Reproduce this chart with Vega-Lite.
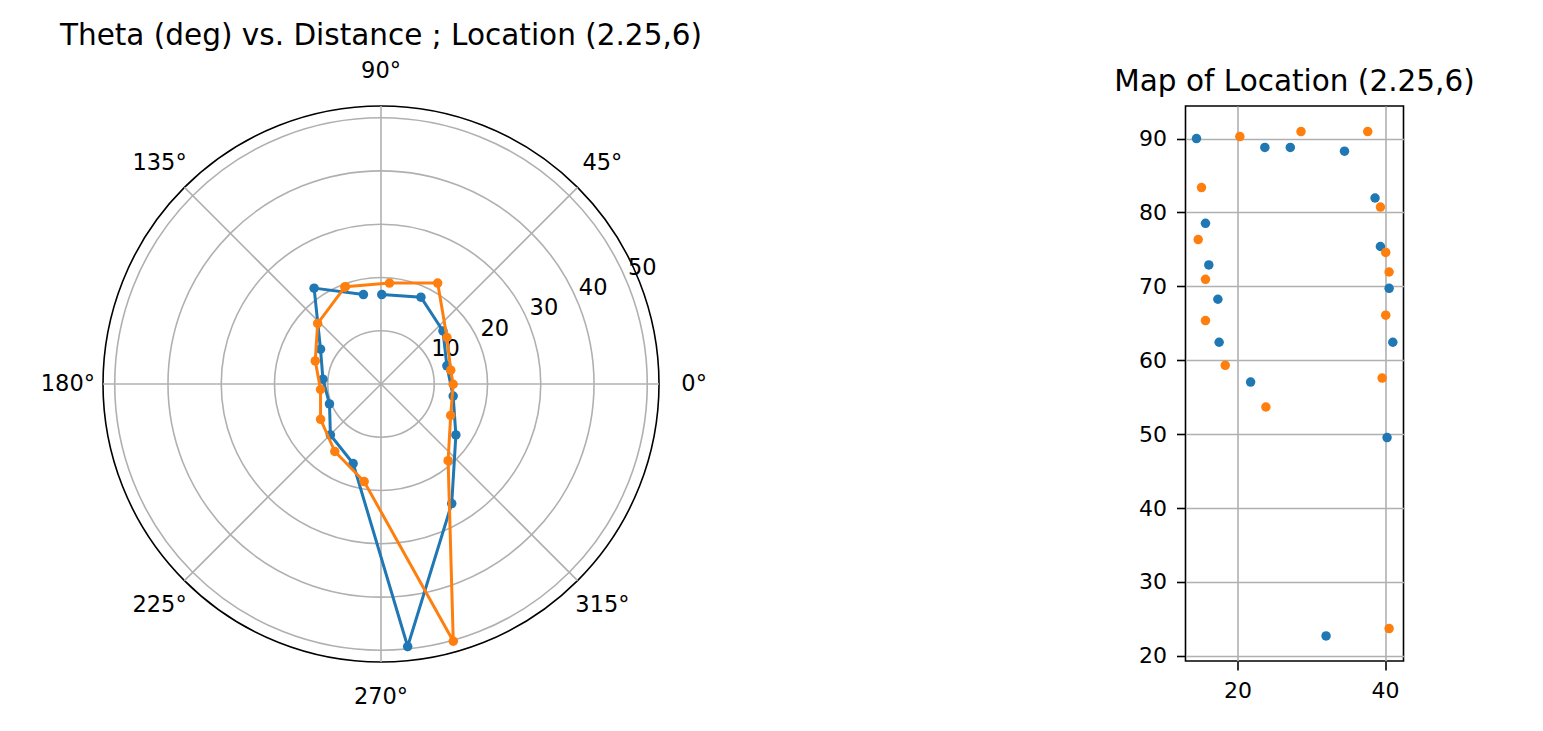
{
  "$schema": "https://vega.github.io/schema/vega-lite/v6.json",
  "padding": {"left": 40, "top": 21, "right": 5, "bottom": 5},
  "background": "white",
  "bounds": "flush",
  "spacing": 526.5,
  "resolve": {"scale": {"color": "independent", "size": "independent"}},
  "config": {"font": "DejaVu Sans", "text": {"font": "DejaVu Sans"}},
  "datasets": {
    "polar": [
      {"scan": "scan 1", "i": 1, "theta": 89.5, "r": 16.8},
      {"scan": "scan 1", "i": 2, "theta": 65.3, "r": 17.94},
      {"scan": "scan 1", "i": 3, "theta": 40.6, "r": 15.32},
      {"scan": "scan 1", "i": 4, "theta": 15.4, "r": 12.83},
      {"scan": "scan 1", "i": 5, "theta": 350.5, "r": 13.74},
      {"scan": "scan 1", "i": 6, "theta": 325.8, "r": 17.0},
      {"scan": "scan 1", "i": 7, "theta": 300.6, "r": 26.09},
      {"scan": "scan 1", "i": 8, "theta": 275.8, "r": 49.55},
      {"scan": "scan 1", "i": 9, "theta": 250.7, "r": 15.83},
      {"scan": "scan 1", "i": 10, "theta": 225.2, "r": 13.48},
      {"scan": "scan 1", "i": 11, "theta": 201.1, "r": 10.37},
      {"scan": "scan 1", "i": 12, "theta": 175.3, "r": 10.94},
      {"scan": "scan 1", "i": 13, "theta": 150.1, "r": 13.1},
      {"scan": "scan 1", "i": 14, "theta": 124.9, "r": 21.95},
      {"scan": "scan 1", "i": 15, "theta": 101.1, "r": 17.12},
      {"scan": "scan 2", "i": 1, "theta": 110.1, "r": 19.46},
      {"scan": "scan 2", "i": 2, "theta": 85.2, "r": 19.02},
      {"scan": "scan 2", "i": 3, "theta": 60.7, "r": 21.74},
      {"scan": "scan 2", "i": 4, "theta": 35.2, "r": 15.15},
      {"scan": "scan 2", "i": 5, "theta": 11.2, "r": 13.35},
      {"scan": "scan 2", "i": 6, "theta": 359.8, "r": 13.55},
      {"scan": "scan 2", "i": 7, "theta": 335.7, "r": 14.36},
      {"scan": "scan 2", "i": 8, "theta": 311.2, "r": 19.13},
      {"scan": "scan 2", "i": 9, "theta": 285.7, "r": 50.16},
      {"scan": "scan 2", "i": 10, "theta": 260.2, "r": 18.59},
      {"scan": "scan 2", "i": 11, "theta": 235.6, "r": 15.36},
      {"scan": "scan 2", "i": 12, "theta": 210.3, "r": 13.14},
      {"scan": "scan 2", "i": 13, "theta": 185.2, "r": 11.4},
      {"scan": "scan 2", "i": 14, "theta": 160.7, "r": 13.08},
      {"scan": "scan 2", "i": 15, "theta": 136.3, "r": 16.45},
      {"scan": "scan 2", "i": 16, "theta": 110.5, "r": 19.4}
    ],
    "rings": [
      {"r": 10, "lab": "10", "kind": "grid"}, {"r": 20, "lab": "20", "kind": "grid"}, {"r": 30, "lab": "30", "kind": "grid"},
      {"r": 40, "lab": "40", "kind": "grid"}, {"r": 50, "lab": "50", "kind": "grid"}, {"r": 52.2, "lab": "", "kind": "edge"}
    ],
    "spokes": [
      {"a": 0, "lab": "0°"}, {"a": 45, "lab": "45°"}, {"a": 90, "lab": "90°"}, {"a": 135, "lab": "135°"},
      {"a": 180, "lab": "180°"}, {"a": 225, "lab": "225°"}, {"a": 270, "lab": "270°"}, {"a": 315, "lab": "315°"}
    ],
    "map": [
      {"scan": "scan 1", "x": 14.43, "y": 90.0},
      {"scan": "scan 1", "x": 23.7, "y": 88.8},
      {"scan": "scan 1", "x": 27.15, "y": 88.8},
      {"scan": "scan 1", "x": 34.5, "y": 88.3},
      {"scan": "scan 1", "x": 38.64, "y": 81.96},
      {"scan": "scan 1", "x": 39.37, "y": 75.4},
      {"scan": "scan 1", "x": 40.55, "y": 69.74},
      {"scan": "scan 1", "x": 41.05, "y": 62.44},
      {"scan": "scan 1", "x": 40.27, "y": 49.54},
      {"scan": "scan 1", "x": 32.0, "y": 22.7},
      {"scan": "scan 1", "x": 21.77, "y": 57.06},
      {"scan": "scan 1", "x": 17.5, "y": 62.44},
      {"scan": "scan 1", "x": 17.33, "y": 68.26},
      {"scan": "scan 1", "x": 16.1, "y": 72.9},
      {"scan": "scan 1", "x": 15.65, "y": 78.54},
      {"scan": "scan 2", "x": 20.31, "y": 90.27},
      {"scan": "scan 2", "x": 28.6, "y": 90.95},
      {"scan": "scan 2", "x": 37.65, "y": 90.95},
      {"scan": "scan 2", "x": 39.37, "y": 80.74},
      {"scan": "scan 2", "x": 40.09, "y": 74.6},
      {"scan": "scan 2", "x": 40.55, "y": 71.95},
      {"scan": "scan 2", "x": 40.09, "y": 66.1},
      {"scan": "scan 2", "x": 39.6, "y": 57.6},
      {"scan": "scan 2", "x": 40.55, "y": 23.7},
      {"scan": "scan 2", "x": 23.84, "y": 53.68},
      {"scan": "scan 2", "x": 18.33, "y": 59.32},
      {"scan": "scan 2", "x": 15.65, "y": 65.37},
      {"scan": "scan 2", "x": 15.65, "y": 70.96},
      {"scan": "scan 2", "x": 14.66, "y": 76.33},
      {"scan": "scan 2", "x": 15.11, "y": 83.37}
    ]
  },
  "hconcat": [
    {
      "width": 556,
      "height": 556,
      "view": {"stroke": null},
      "title": {"text": "Theta (deg) vs. Distance ; Location (2.25,6)", "font": "DejaVu Sans", "fontSize": 29.5, "fontWeight": "normal", "color": "#000000", "baseline": "alphabetic", "anchor": "middle", "frame": "group", "offset": -15},
      "layer": [
        {
          "data": {"name": "rings"},
          "transform": [{"calculate": "0", "as": "c"}],
          "mark": {"type": "point", "shape": "circle", "filled": false, "strokeWidth": 1.6, "opacity": 1},
          "encoding": {
            "x": {"field": "c", "type": "quantitative", "scale": {"domain": [-52.2, 52.2], "nice": false, "zero": false}, "axis": null},
            "y": {"field": "c", "type": "quantitative", "scale": {"domain": [-52.2, 52.2], "nice": false, "zero": false}, "axis": null},
            "size": {"field": "r", "type": "quantitative", "scale": {"type": "pow", "exponent": 2, "domain": [0, 52.2], "range": [0, 309136], "zero": true, "nice": false}, "legend": null},
            "color": {"field": "kind", "type": "nominal", "scale": {"domain": ["grid", "edge"], "range": ["#b0b0b0", "#000000"]}, "legend": null}
          }
        },
        {
          "data": {"name": "spokes"},
          "transform": [
            {"calculate": "0", "as": "c"},
            {"calculate": "52.2 * cos(datum.a * PI / 180)", "as": "gx"},
            {"calculate": "52.2 * sin(datum.a * PI / 180)", "as": "gy"}
          ],
          "mark": {"type": "rule", "color": "#b0b0b0", "strokeWidth": 1.6},
          "encoding": {
            "x": {"field": "c", "type": "quantitative", "scale": {"domain": [-52.2, 52.2], "nice": false, "zero": false}, "axis": null},
            "y": {"field": "c", "type": "quantitative", "scale": {"domain": [-52.2, 52.2], "nice": false, "zero": false}, "axis": null},
            "x2": {"field": "gx"},
            "y2": {"field": "gy"}
          }
        },
        {
          "data": {"name": "rings"},
          "transform": [
            {"filter": "datum.kind == 'grid'"},
            {"calculate": "datum.r * cos(22.5 * PI / 180)", "as": "lx"},
            {"calculate": "datum.r * sin(22.5 * PI / 180)", "as": "ly"}
          ],
          "mark": {"type": "text", "align": "left", "baseline": "alphabetic", "dx": 1, "dy": -7.5, "fontSize": 22.5, "font": "DejaVu Sans", "color": "#000000"},
          "encoding": {
            "x": {"field": "lx", "type": "quantitative", "scale": {"domain": [-52.2, 52.2], "nice": false, "zero": false}, "axis": null},
            "y": {"field": "ly", "type": "quantitative", "scale": {"domain": [-52.2, 52.2], "nice": false, "zero": false}, "axis": null},
            "text": {"field": "lab", "type": "nominal"}
          }
        },
        {
          "data": {"name": "spokes"},
          "transform": [
            {"calculate": "58.8 * cos(datum.a * PI / 180)", "as": "tx"},
            {"calculate": "58.8 * sin(datum.a * PI / 180)", "as": "ty"}
          ],
          "mark": {"type": "text", "align": "center", "baseline": "middle", "fontSize": 22.5, "font": "DejaVu Sans", "color": "#000000"},
          "encoding": {
            "x": {"field": "tx", "type": "quantitative", "scale": {"domain": [-52.2, 52.2], "nice": false, "zero": false}, "axis": null},
            "y": {"field": "ty", "type": "quantitative", "scale": {"domain": [-52.2, 52.2], "nice": false, "zero": false}, "axis": null},
            "text": {"field": "lab", "type": "nominal"}
          }
        },
        {
          "data": {"name": "polar"},
          "transform": [
            {"filter": "datum.scan == 'scan 1'"},
            {"calculate": "datum.r * cos(datum.theta * PI / 180)", "as": "px"},
            {"calculate": "datum.r * sin(datum.theta * PI / 180)", "as": "py"}
          ],
          "mark": {"type": "line", "color": "#1f77b4", "strokeWidth": 3, "point": {"filled": true, "size": 90, "color": "#1f77b4", "opacity": 1}},
          "encoding": {
            "x": {"field": "px", "type": "quantitative", "scale": {"domain": [-52.2, 52.2], "nice": false, "zero": false}, "axis": null},
            "y": {"field": "py", "type": "quantitative", "scale": {"domain": [-52.2, 52.2], "nice": false, "zero": false}, "axis": null},
            "order": {"field": "i", "type": "quantitative"}
          }
        },
        {
          "data": {"name": "polar"},
          "transform": [
            {"filter": "datum.scan == 'scan 2'"},
            {"calculate": "datum.r * cos(datum.theta * PI / 180)", "as": "px"},
            {"calculate": "datum.r * sin(datum.theta * PI / 180)", "as": "py"}
          ],
          "mark": {"type": "line", "color": "#ff7f0e", "strokeWidth": 3, "point": {"filled": true, "size": 90, "color": "#ff7f0e", "opacity": 1}},
          "encoding": {
            "x": {"field": "px", "type": "quantitative", "scale": {"domain": [-52.2, 52.2], "nice": false, "zero": false}, "axis": null},
            "y": {"field": "py", "type": "quantitative", "scale": {"domain": [-52.2, 52.2], "nice": false, "zero": false}, "axis": null},
            "order": {"field": "i", "type": "quantitative"}
          }
        }
      ]
    },
    {
      "width": 218,
      "height": 555,
      "view": {"stroke": "#000000", "strokeWidth": 1.6},
      "title": {"text": "Map of Location (2.25,6)", "font": "DejaVu Sans", "fontSize": 29.5, "fontWeight": "normal", "color": "#000000", "baseline": "alphabetic", "anchor": "middle", "frame": "group", "offset": -14},
      "data": {"name": "map"},
      "mark": {"type": "point", "shape": "circle", "filled": true, "size": 90, "opacity": 1},
      "encoding": {
        "x": {
          "field": "x", "type": "quantitative",
          "scale": {"domain": [12.94, 42.5], "nice": false, "zero": false},
          "axis": {"values": [20, 40], "title": null, "grid": true, "gridColor": "#b0b0b0", "gridWidth": 1.6, "gridOpacity": 1, "domain": false, "ticks": true, "tickColor": "#000000", "tickSize": 9, "tickWidth": 1.6, "labelFontSize": 22, "labelFont": "DejaVu Sans", "labelColor": "#000000", "labelPadding": 10, "labelFlush": false, "labelOverlap": false}
        },
        "y": {
          "field": "y", "type": "quantitative",
          "scale": {"domain": [19.31, 94.41], "nice": false, "zero": false},
          "axis": {"values": [20, 30, 40, 50, 60, 70, 80, 90], "title": null, "grid": true, "gridColor": "#b0b0b0", "gridWidth": 1.6, "gridOpacity": 1, "domain": false, "ticks": true, "tickColor": "#000000", "tickSize": 9, "tickWidth": 1.6, "labelFontSize": 22, "labelFont": "DejaVu Sans", "labelColor": "#000000", "labelPadding": 10, "labelFlush": false, "labelOverlap": false}
        },
        "color": {"field": "scan", "type": "nominal", "scale": {"domain": ["scan 1", "scan 2"], "range": ["#1f77b4", "#ff7f0e"]}, "legend": null}
      }
    }
  ]
}
